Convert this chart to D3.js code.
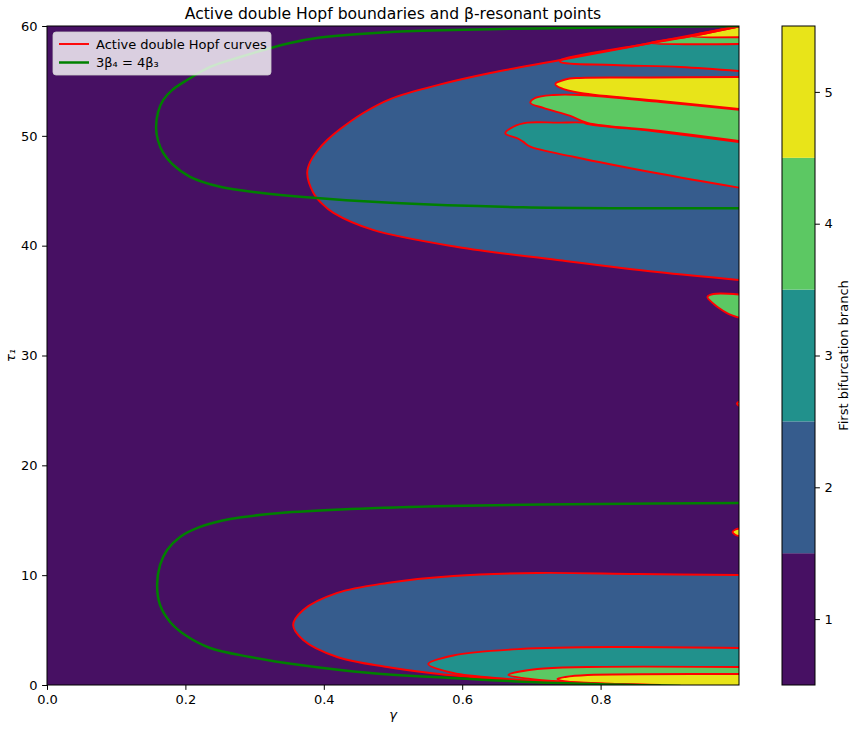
<!DOCTYPE html>
<html>
<head>
<meta charset="utf-8">
<title>Active double Hopf boundaries</title>
<script src="https://cdn.jsdelivr.net/npm/d3@7"></script>
<style>
  body { margin: 0; background: #fff; }
  svg text { fill: #000; font-family: "DejaVu Sans", sans-serif; }
</style>
</head>
<body>
<svg id="chart" width="855" height="732"></svg>
<script>
// branch levels and colours (viridis steps)
const branchLevels = [1, 2, 3, 4, 5];
const branchColors = ["#471063", "#365c8d", "#21918c", "#5cc863", "#e8e419"];
const xTicks = [0, 0.2, 0.4, 0.6, 0.8];
const yTicks = [0, 10, 20, 30, 40, 50, 60];

// region boundaries [gamma, tau1]
const upperBlob = [[1.0,60.0],[0.8575,58.27],[0.7419,56.9],[0.6406,55.72],[0.5683,54.68],[0.496,53.35],[0.457,52.08],[0.4237,50.62],[0.4049,49.62],[0.3905,48.62],[0.3803,47.62],[0.376,46.62],[0.385,44.8],[0.3977,43.8],[0.414,42.98],[0.471,41.43],[0.593,39.88],[0.7375,38.7],[0.882,37.6],[1.0,36.88]];
const upperTeal = [[1.0,55.9],[0.9154,56.27],[0.8185,56.45],[0.742,56.72],[0.742,56.88],[0.8575,58.27],[0.934,59.1],[1.0,59.95]];
const upperGreen = [[1.0,58.36],[0.8706,58.45],[0.934,59.1],[1.0,59.95]];
const upperYellow = [[1.0,58.97],[0.93,59.08],[0.96,59.5],[1.0,59.95]];
const midYellow = [[1.0,55.36],[0.872,55.31],[0.7665,55.27],[0.749,55.13],[0.7346,54.72],[0.742,54.36],[0.771,53.9],[0.8865,53.17],[1.0,52.45]];
const midGreen = [[1.0,52.36],[0.8865,53.08],[0.771,53.72],[0.7318,53.72],[0.7057,53.45],[0.6985,53.0],[0.7173,52.54],[0.7563,51.81],[0.781,51.17],[0.8865,50.44],[1.0,49.53]];
const midTeal = [[1.0,49.44],[0.8865,50.35],[0.781,51.08],[0.775,51.2],[0.7375,51.2],[0.694,51.2],[0.674,50.83],[0.6623,50.23],[0.6797,49.78],[0.688,49.47],[0.6985,49.01],[0.7607,48.1],[0.882,46.59],[1.0,45.28]];
const smallGreen = [[1.0,35.56],[0.963,35.6],[0.9544,35.33],[0.9617,34.79],[0.9689,34.42],[0.9834,33.84],[1.0,33.44]];
const tinySpot = [[1.0,25.8],[0.997,25.6],[1.0,25.4]];
const smallYellow = [[1.0,14.25],[0.995,14.16],[0.9906,13.93],[0.995,13.66],[1.0,13.57]];
const lowerBlob = [[1.0,10.02],[0.8532,10.1],[0.7086,10.2],[0.5871,9.92],[0.4917,9.29],[0.4194,8.38],[0.3702,6.83],[0.3557,5.46],[0.3702,4.1],[0.4194,2.55],[0.4917,1.64],[0.5539,1.09],[0.6117,0.73],[0.684,0.36],[0.7375,0.18],[0.8,0.05],[0.8575,0]];
const lowerTeal = [[1.0,3.37],[0.8286,3.46],[0.684,3.28],[0.5871,2.69],[0.551,1.91],[0.5871,1.09],[0.665,0.55],[0.7317,0.27],[0.8,0.09],[0.8575,0]];
const lowerGreen = [[1.0,1.64],[0.781,1.64],[0.7086,1.46],[0.6667,0.91],[0.6985,0.55],[0.7317,0.36],[0.8,0.14],[0.872,0]];
const lowerYellow = [[1.0,1.0],[0.781,0.91],[0.749,0.73],[0.7375,0.55],[0.7563,0.27],[0.8286,0.09],[0.8865,0]];

// 3β4 = 4β3 curves
const resonantUpper = [[1.0,60.0],[0.8,59.86],[0.655,59.73],[0.5105,59.5],[0.3948,58.95],[0.3514,58.45],[0.2791,57.18],[0.2357,56.27],[0.2025,55.08],[0.1808,54.16],[0.1678,53.25],[0.1605,52.16],[0.1576,50.71],[0.1605,49.55],[0.1678,48.46],[0.1808,47.45],[0.2068,46.27],[0.2502,45.36],[0.3081,44.81],[0.3659,44.45],[0.496,43.9],[0.688,43.5],[1.0,43.4]];
const resonantLower = [[1.0,16.57],[0.8,16.48],[0.5828,16.3],[0.4382,16.02],[0.337,15.66],[0.2646,15.11],[0.2213,14.39],[0.1923,13.48],[0.1735,12.29],[0.1634,10.93],[0.1591,9.1],[0.1634,7.28],[0.1779,5.74],[0.1996,4.55],[0.2357,3.37],[0.2936,2.55],[0.3659,1.82],[0.4671,1.09],[0.5828,0.64],[0.7375,0.18],[0.9154,-0.09]];

const regions = [
  { level: 2, pts: upperBlob },
  { level: 3, pts: midTeal },
  { level: 4, pts: midGreen },
  { level: 5, pts: midYellow },
  { level: 3, pts: upperTeal },
  { level: 4, pts: upperGreen },
  { level: 5, pts: upperYellow },
  { level: 4, pts: smallGreen },
  { level: 4, pts: tinySpot },
  { level: 5, pts: smallYellow },
  { level: 2, pts: lowerBlob },
  { level: 3, pts: lowerTeal },
  { level: 4, pts: lowerGreen },
  { level: 5, pts: lowerYellow },
];

const svg = d3.select("#chart");
const plotLeft = 47, plotRight = 739, plotTop = 26, plotBottom = 685;
const fontBase = 13;

const x = d3.scaleLinear().domain([0, 1]).range([plotLeft, plotRight]);
const y = d3.scaleLinear().domain([0, 60]).range([plotBottom, plotTop]);
const color = d3.scaleOrdinal().domain(branchLevels).range(branchColors);

svg.append("defs").append("clipPath").attr("id", "plot-clip")
  .append("rect").attr("x", plotLeft).attr("y", plotTop)
  .attr("width", plotRight - plotLeft).attr("height", plotBottom - plotTop);

const plot = svg.append("g").attr("clip-path", "url(#plot-clip)");

// background = branch 1
plot.append("rect")
  .attr("x", plotLeft).attr("y", plotTop)
  .attr("width", plotRight - plotLeft).attr("height", plotBottom - plotTop)
  .attr("fill", color(1));

const line = d3.line()
  .x(d => x(d[0]))
  .y(d => y(d[1]))
  .curve(d3.curveCatmullRom.alpha(0.5));

// fill path closes along the plot edge
function fillPath(pts) {
  let p = line(pts);
  const last = pts[pts.length - 1];
  if (last[1] <= 0) p += `L${x(1)},${y(0)}`;
  return p + "Z";
}

regions.forEach(r => {
  plot.append("path")
    .attr("d", fillPath(r.pts))
    .attr("fill", color(r.level));
});

// contour lines
regions.forEach(r => {
  plot.append("path")
    .attr("d", line(r.pts))
    .attr("fill", "none")
    .attr("stroke", "red")
    .attr("stroke-width", 1.9);
});

// resonance curves
[resonantUpper, resonantLower].forEach(c => {
  plot.append("path")
    .attr("d", line(c))
    .attr("fill", "none")
    .attr("stroke", "green")
    .attr("stroke-width", 2.5);
});

// frame
svg.append("rect")
  .attr("x", plotLeft).attr("y", plotTop)
  .attr("width", plotRight - plotLeft).attr("height", plotBottom - plotTop)
  .attr("fill", "none").attr("stroke", "#000").attr("stroke-width", 1);

// axes
const xAxis = svg.append("g")
  .attr("transform", `translate(0,${plotBottom})`)
  .call(d3.axisBottom(x).tickValues(xTicks).tickFormat(d3.format(".1f")).tickSize(4.9).tickPadding(4.5));
const yAxis = svg.append("g")
  .attr("transform", `translate(${plotLeft},0)`)
  .call(d3.axisLeft(y).tickValues(yTicks).tickSize(4.9).tickPadding(4.5));
[xAxis, yAxis].forEach(a => {
  a.select(".domain").remove();
  a.attr("font-family", null).attr("font-size", null);
  a.selectAll("text").attr("font-size", fontBase);
  a.selectAll("line").attr("stroke", "#000").attr("stroke-width", 1);
});

svg.append("text")
  .attr("x", (plotLeft + plotRight) / 2).attr("y", 19)
  .attr("text-anchor", "middle")
  .attr("font-size", 15.6)
  .text("Active double Hopf boundaries and β-resonant points");

svg.append("text")
  .attr("x", (plotLeft + plotRight) / 2).attr("y", 719)
  .attr("text-anchor", "middle")
  .attr("font-size", fontBase)
  .attr("font-style", "italic")
  .text("γ");

svg.append("text")
  .attr("transform", `translate(15,${(plotTop + plotBottom) / 2}) rotate(-90)`)
  .attr("text-anchor", "middle")
  .attr("font-size", fontBase)
  .attr("font-style", "italic")
  .text("τ₁");

// legend
const legend = svg.append("g");
legend.append("rect")
  .attr("x", 53).attr("y", 32).attr("width", 218).attr("height", 43).attr("rx", 3)
  .attr("fill", "#fff").attr("fill-opacity", 0.8)
  .attr("stroke", "#ccc").attr("stroke-opacity", 0.8);
const legendItems = [
  { label: "Active double Hopf curves", stroke: "red", width: 1.9 },
  { label: "3β₄ = 4β₃", stroke: "green", width: 2.5 },
];
legendItems.forEach((it, i) => {
  const ly = 44 + i * 18.5;
  legend.append("line")
    .attr("x1", 59).attr("x2", 89).attr("y1", ly).attr("y2", ly)
    .attr("stroke", it.stroke).attr("stroke-width", it.width);
  legend.append("text")
    .attr("x", 96).attr("y", ly + 4.7)
    .attr("font-size", fontBase)
    .text(it.label);
});

// colorbar
const cbLeft = 782, cbWidth = 33;
const cy = d3.scaleLinear().domain([0.5, 5.5]).range([plotBottom, plotTop]);
const cbar = svg.append("g");
branchLevels.forEach(l => {
  cbar.append("rect")
    .attr("x", cbLeft).attr("width", cbWidth)
    .attr("y", cy(l + 0.5)).attr("height", cy(l - 0.5) - cy(l + 0.5))
    .attr("fill", color(l));
});
cbar.append("rect")
  .attr("x", cbLeft).attr("y", plotTop).attr("width", cbWidth).attr("height", plotBottom - plotTop)
  .attr("fill", "none").attr("stroke", "#000").attr("stroke-width", 1);
const cAxis = svg.append("g")
  .attr("transform", `translate(${cbLeft + cbWidth},0)`)
  .call(d3.axisRight(cy).tickValues(branchLevels).tickFormat(d3.format("d")).tickSize(4.9).tickPadding(4.5));
cAxis.select(".domain").remove();
cAxis.attr("font-family", null).attr("font-size", null);
cAxis.selectAll("text").attr("font-size", fontBase);
cAxis.selectAll("line").attr("stroke", "#000").attr("stroke-width", 1);

svg.append("text")
  .attr("transform", `translate(848,${(plotTop + plotBottom) / 2}) rotate(-90)`)
  .attr("text-anchor", "middle")
  .attr("font-size", fontBase)
  .text("First bifurcation branch");
</script>
</body>
</html>
